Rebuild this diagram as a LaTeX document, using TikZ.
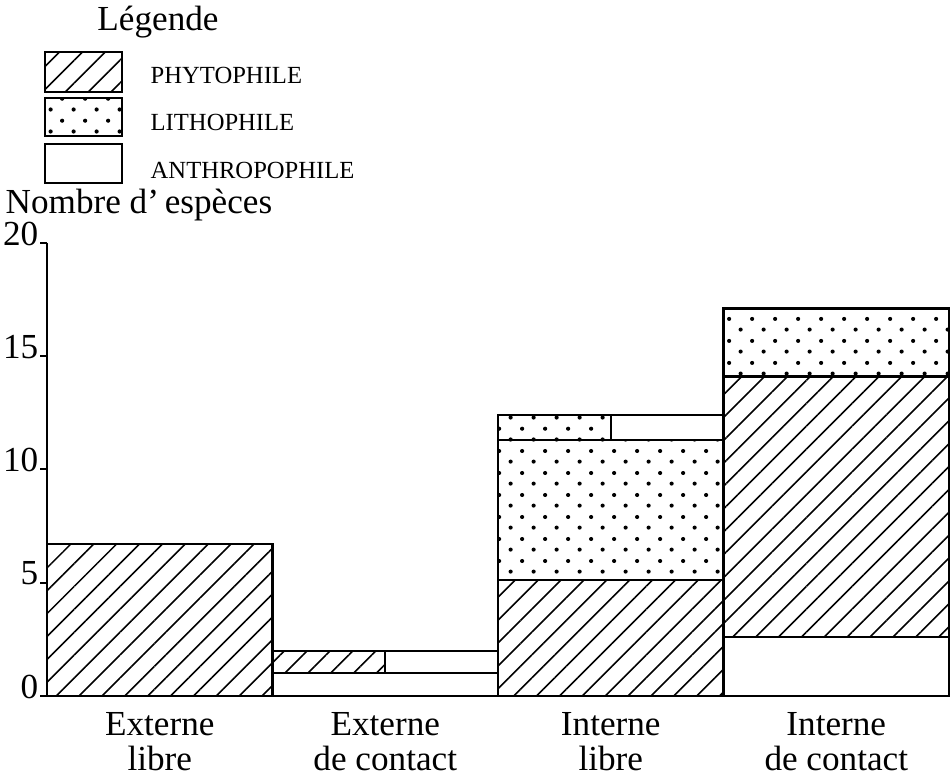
\documentclass[tikz,border=0pt]{standalone}
\usepackage{fontspec}
\setmainfont{Liberation Serif}
\usetikzlibrary{patterns.meta}
\usetikzlibrary{positioning}
\newcommand{\barW}{225.5}
\newcommand{\unitH}{0.2265cm}
\newcommand{\axisX}{47}
\newcommand{\axisY}{696}
\pgfdeclarepatternformonly{stagdots}{\pgfpointorigin}{\pgfqpoint{6.54pt}{6.26pt}}{\pgfqpoint{6.54pt}{6.26pt}}{
  \pgfpathcircle{\pgfqpoint{1.6pt}{1.6pt}}{0.6pt}
  \pgfpathcircle{\pgfqpoint{4.87pt}{4.73pt}}{0.6pt}
  \pgfusepath{fill}
}
\tikzset{
  hatch/.style={draw, line width=0.6pt, pattern={Lines[angle=45,distance=4.6pt,line width=0.45pt]}},
  dots/.style={draw, line width=0.6pt, pattern=stagdots},
  plain/.style={draw, line width=0.6pt},
  legtext/.style={anchor=west, font=\fontsize{7}{8}\selectfont, inner sep=0pt},
  cattext/.style={anchor=north, align=center, inner sep=0pt, font=\fontsize{10}{10}\selectfont}
}

\begin{document}
\begin{tikzpicture}[x=0.01cm, y=-0.01cm]
\useasboundingbox (0,0) rectangle (952,775);

% legende
\node at (158,22) (leg) {Légende};
\draw[hatch] (45,52) rectangle (122,92);
\draw[dots] (45,98) rectangle (122,136);
\draw[plain] (45,144) rectangle (122,183);
\node[legtext] at (150,75) (phyto) {PHYTOPHILE};
\node[legtext] at (150,122) (litho) {LITHOPHILE};
\node[legtext] at (150,170) (anthro) {ANTHROPOPHILE};
\node[anchor=west, inner sep=0pt] at (5,205) (ylab) {Nombre d'\,espèces};

\begin{scope}[shift={(\axisX,\axisY)}, y=\unitH]
    % axes
    \draw[line width=0.6pt] (0,20) -- (0,0) -- (4*\barW,0);
    \foreach \v in {0,5,...,20}{
        \draw[line width=0.6pt] (-7,\v) -- (0,\v);
        \node[anchor=base east, inner sep=0pt] at (-8,\v-0.1) (t\v) {\v};
    }

    % externe libre
    \draw[hatch] (0,0) rectangle (\barW,6.7);
    % externe de contact
    \draw[plain] (\barW,0) rectangle (2*\barW,1);
    \draw[hatch] (\barW,1) rectangle (1.5*\barW,2);
    \draw[plain] (1.5*\barW,1) rectangle (2*\barW,2);
    % interne libre
    \draw[hatch] (2*\barW,0) rectangle (3*\barW,5.1);
    \draw[dots] (2*\barW,5.1) rectangle (3*\barW,11.3);
    \draw[dots] (2*\barW,11.3) rectangle (2.5*\barW,12.4);
    \draw[plain] (2.5*\barW,11.3) rectangle (3*\barW,12.4);
    % interne de contact
    \draw[plain] (3*\barW,0) rectangle (4*\barW,2.6);
    \draw[hatch] (3*\barW,2.6) rectangle (4*\barW,14.1);
    \draw[dots] (3*\barW,14.1) rectangle (4*\barW,17.1);

    \node[cattext] at (0.5*\barW,-0.68) (c1) {Externe\\libre};
    \node[cattext] at (1.5*\barW,-0.68) (c2) {Externe\\de contact};
    \node[cattext] at (2.5*\barW,-0.68) (c3) {Interne\\libre};
    \node[cattext] at (3.5*\barW,-0.68) (c4) {Interne\\de contact};
\end{scope}

\end{tikzpicture}
\end{document}
